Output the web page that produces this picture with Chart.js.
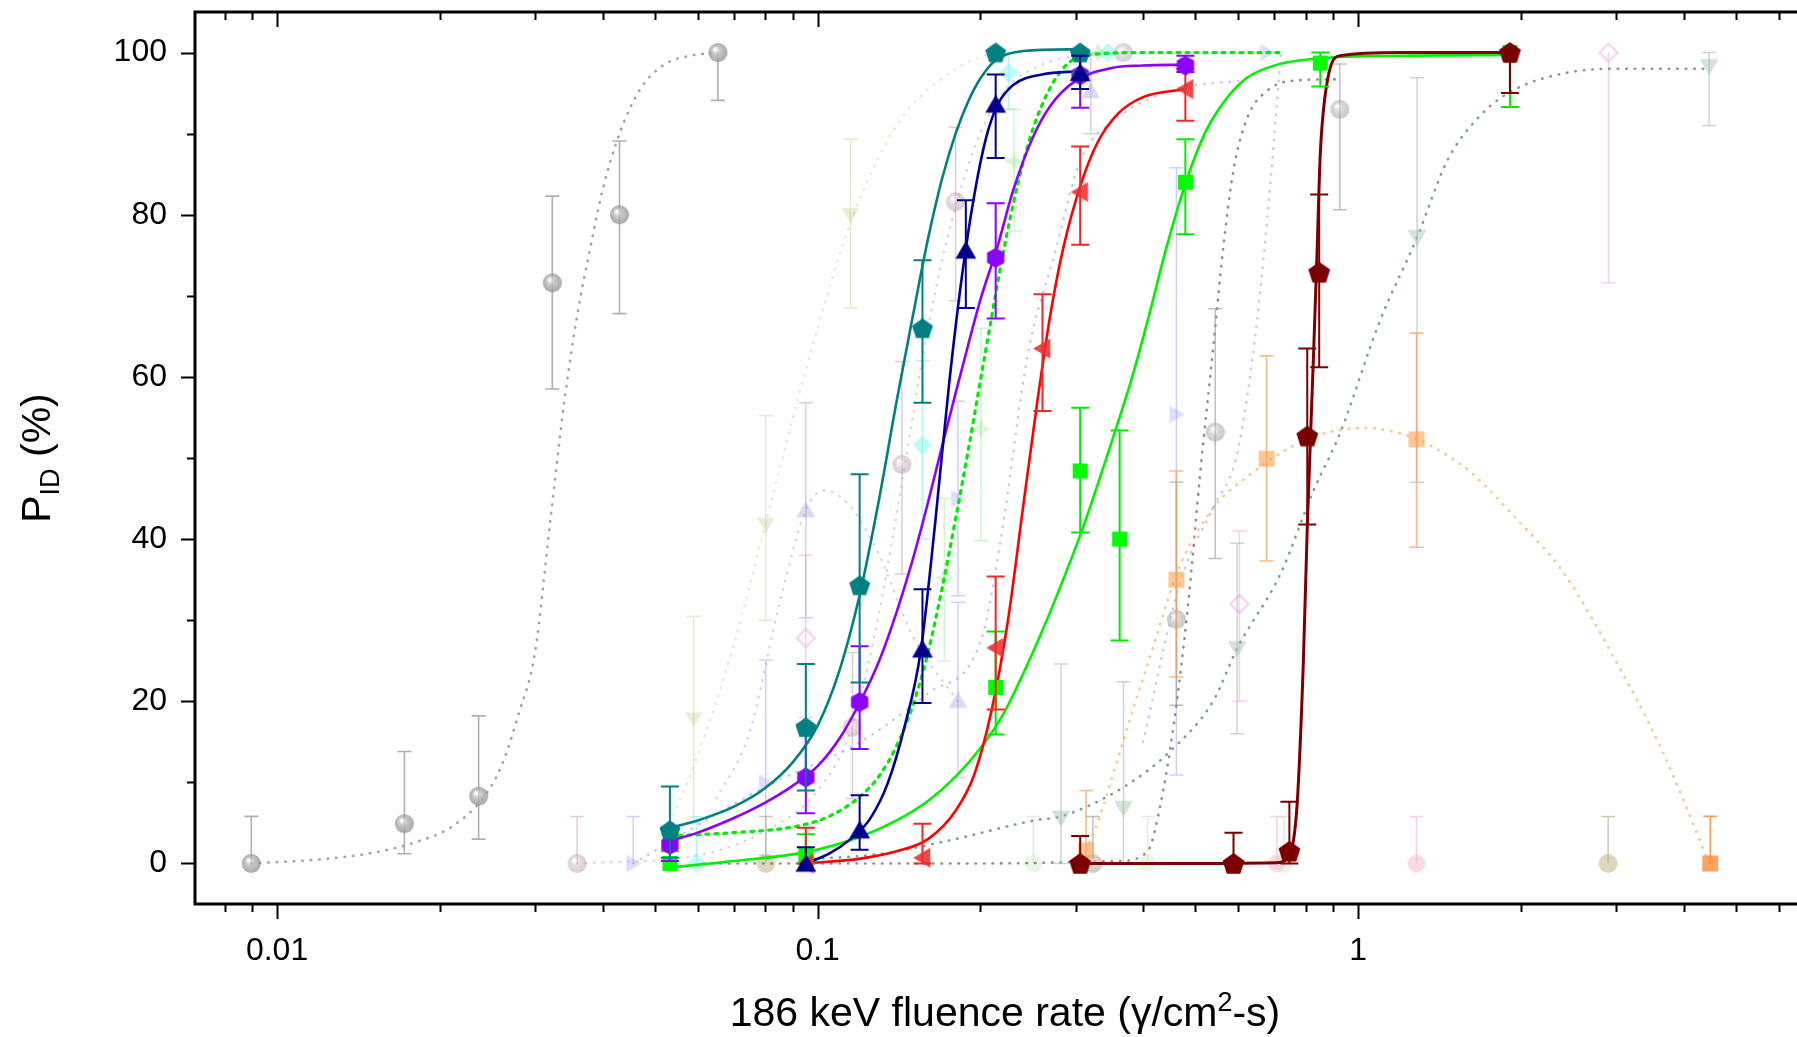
<!DOCTYPE html>
<html>
<head>
<meta charset="utf-8">
<script src="https://cdn.jsdelivr.net/npm/chart.js@4.4.1/dist/chart.umd.min.js"></script>
<style>
  html, body { margin: 0; padding: 0; background: #fff; overflow: hidden; width: 1797px; height: 1037px; }
  #wrap { position: absolute; left: 0; top: 0; width: 1830px; height: 1037px; }
</style>
</head>
<body>
<div id="wrap"><canvas id="c" width="1830" height="1037"></canvas></div>
<script>
// ---------- axis ticks ----------
const xTickValues = [0.008, 0.009,
  0.01, 0.02, 0.03, 0.04, 0.05, 0.06, 0.07, 0.08, 0.09,
  0.1, 0.2, 0.3, 0.4, 0.5, 0.6, 0.7, 0.8, 0.9,
  1, 2, 3, 4, 5, 6, 7];
const xTickLabels = { 0.01: '0.01', 0.1: '0.1', 1: '1' };
const yMajorTicks = [0, 20, 40, 60, 80, 100];
const yMinorTicks = [10, 30, 50, 70, 90];

// ---------- solid-fit series ----------
const tealX  = [0.0533, 0.0951, 0.1196, 0.1563, 0.2135, 0.306];
const tealY  = [4.1, 16.8, 34.3, 66.0, 100, 100];
const tealHi = [9.5, 24.6, 48.0, 74.4, 100, 100];
const tealLo = [0.7, 9.0, 22.3, 56.8, 100, 97.5];
const tealFitX = [0.0533, 0.06, 0.07, 0.08, 0.09, 0.1, 0.11, 0.12, 0.13, 0.14, 0.15, 0.16, 0.17, 0.18, 0.19, 0.2, 0.213, 0.24, 0.306];
const tealFitY = [4.4, 5.3, 7, 9.3, 12.5, 17, 24, 33.5, 45, 57, 67.5, 77, 84.5, 90, 94, 96.8, 99, 100.2, 100.4];

const navyX  = [0.0951, 0.1196, 0.1563, 0.188, 0.2135, 0.306];
const navyY  = [0, 4.1, 26.4, 75.6, 93.6, 97.5];
const navyHi = [2.0, 8.4, 33.8, 81.8, 97.3, 99.6];
const navyLo = [0, 1.7, 19.8, 68.5, 87.0, 95.5];
const navyFitX = [0.0951, 0.105, 0.115, 0.125, 0.135, 0.145, 0.155, 0.165, 0.175, 0.185, 0.195, 0.205, 0.215, 0.23, 0.26, 0.306];
const navyFitY = [0, 1.2, 3, 5.5, 10, 17, 26, 42, 59, 72.5, 82.5, 89.5, 93.5, 96, 97.3, 97.7];

const violetX  = [0.0533, 0.0951, 0.1196, 0.2135, 0.306, 0.479];
const violetY  = [2.3, 10.6, 19.9, 74.7, 97.2, 98.4];
const violetHi = [4.4, 16.7, 26.8, 81.4, 100, 99.6];
const violetLo = [0.3, 6.2, 14.1, 67.2, 93.2, 97.6];
const violetFitX = [0.0533, 0.06, 0.07, 0.08, 0.09, 0.1, 0.11, 0.12, 0.13, 0.14, 0.15, 0.16, 0.17, 0.18, 0.19, 0.2, 0.215, 0.23, 0.25, 0.27, 0.3, 0.35, 0.4, 0.479];
const violetFitY = [2.8, 3.8, 5.6, 7.5, 9.6, 12, 15.5, 20, 25, 31, 37.5, 44.5, 51.5, 58, 64, 69.5, 76, 83, 89.5, 93.5, 96.5, 98.1, 98.4, 98.5];

const redX  = [0.0951, 0.1563, 0.2135, 0.2606, 0.306, 0.479];
const redY  = [0, 0.7, 26.6, 63.5, 82.8, 95.5];
const redHi = [4.4, 4.9, 35.4, 70.2, 88.4, 98.0];
const redLo = [0, 0, 19.0, 55.8, 76.3, 91.6];
const redFitX = [0.0951, 0.12, 0.14, 0.16, 0.18, 0.195, 0.21, 0.225, 0.24, 0.255, 0.27, 0.285, 0.306, 0.33, 0.36, 0.4, 0.479];
const redFitY = [0, 0.6, 1.5, 3, 6.5, 11, 19, 30, 44, 57, 68, 76, 83.5, 89, 92.5, 94.5, 95.5];

const limeX  = [0.0533, 0.0951, 0.2135, 0.306, 0.362, 0.479, 0.851, 1.909];
const limeY  = [0, 1.0, 21.7, 48.4, 40.0, 84.0, 98.7, 100];
const limeHi = [1.5, 3.6, 28.6, 56.2, 53.4, 89.3, 100, 100];
const limeLo = [0, 0, 15.9, 40.8, 27.5, 77.6, 95.8, 93.3];
const limeFitX = [0.0533, 0.07, 0.0951, 0.12, 0.14, 0.16, 0.18, 0.2, 0.22, 0.25, 0.28, 0.31, 0.35, 0.38, 0.41, 0.44, 0.48, 0.52, 0.56, 0.62, 0.7, 0.85, 1.2, 1.909];
const limeFitY = [-0.5, 0.3, 1.4, 3.3, 5.3, 7.7, 10.7, 14.2, 18.3, 26, 33.8, 41.5, 52, 59.5, 67.5, 75.5, 84, 90, 93.6, 96.8, 98.4, 99.3, 99.6, 99.7];

const maroonX  = [0.306, 0.588, 0.746, 0.805, 0.847, 1.909];
const maroonY  = [0, 0, 1.5, 52.7, 72.9, 100];
const maroonHi = [3.4, 3.8, 7.6, 63.5, 82.5, 100];
const maroonLo = [0, 0, 0, 41.8, 61.2, 95.0];
const maroonFitX = [0.306, 0.5, 0.7075, 0.748, 0.7706, 0.7915, 0.805, 0.827, 0.839, 0.851, 0.877, 0.925, 1.2, 1.909];
const maroonFitY = [0, 0, 0.1, 1.2, 7.1, 24.6, 41.4, 62.9, 75.1, 87.5, 96.5, 99.6, 100, 100];

// bright green dotted fit and its pale markers
const paleGreenX  = [0.1715, 0.2005, 0.231, 0.33];
const paleGreenY  = [35.2, 53.6, 86.6, 100];
const paleGreenHi = [45, 66, 93, 100];
const paleGreenLo = [25, 39.8, 78, 100];
const greenDotFitX = [0.0533, 0.07, 0.09, 0.105, 0.12, 0.13, 0.14, 0.15, 0.16, 0.17, 0.18, 0.19, 0.2, 0.21, 0.22, 0.235, 0.25, 0.27, 0.29, 0.31, 0.4, 0.718];
const greenDotFitY = [3.4, 3.8, 4.5, 5.8, 8.3, 10.8, 14.5, 19.5, 26, 34, 42.5, 51, 59.5, 67.5, 75, 84, 90.5, 95.8, 98.6, 99.6, 100, 100];

// ---------- faded series (dotted fits) ----------
const greyLX  = [0.00896, 0.0172, 0.0236, 0.0323, 0.043, 0.0654];
const greyLY  = [0, 4.9, 8.3, 71.6, 80, 100];
const greyLHi = [5.8, 13.8, 18.2, 82.3, 89.1, 100];
const greyLLo = [0, 1.2, 3.0, 58.5, 67.8, 94.1];
const greyLFitX = [0.00896, 0.012, 0.015, 0.018, 0.021, 0.024, 0.026, 0.028, 0.03, 0.032, 0.034, 0.036, 0.038, 0.04, 0.043, 0.047, 0.052, 0.058, 0.0654];
const greyLFitY = [0, 0.5, 1.3, 2.6, 4.5, 8, 12, 18.5, 26, 42, 57, 68, 76, 83, 90, 95.5, 98.5, 99.6, 100];

const greyRX  = [0.323, 0.461, 0.544, 0.925];
const greyRY  = [0, 30.1, 53.2, 93];
const greyRHi = [5.8, 47, 68.4, 98.6];
const greyRLo = [0, 19.5, 37.6, 80.6];
const greyRFitX = [0.0615, 0.2, 0.36, 0.408, 0.43, 0.456, 0.484, 0.51, 0.54, 0.563, 0.588, 0.624, 0.679, 0.749, 0.925];
const greyRFitY = [0, 0, 0.3, 1.5, 7, 17.2, 31.6, 48, 64, 76, 85.5, 92, 95.3, 96.5, 96.7];

const sageX  = [0.282, 0.368, 0.597, 1.285, 4.46];
const sageY  = [5.6, 6.8, 26.5, 77.2, 98.3];
const sageHi = [24.6, 22.4, 39.5, 96.9, 100];
const sageLo = [0, 0, 16, 47, 91];
const sageFitX = [0.0951, 0.131, 0.1741, 0.2515, 0.282, 0.368, 0.45, 0.54, 0.597, 0.718, 0.827, 0.925, 1.097, 1.285, 1.46, 1.68, 1.93, 2.39, 2.96, 4.46];
const sageFitY = [0.5, 1.2, 2.8, 5.3, 5.8, 9.4, 13.9, 20.1, 26.5, 35.7, 46, 53, 66.9, 77.2, 86.6, 92.2, 95.3, 97.4, 98, 98];

const orangeX  = [0.3137, 0.461, 0.677, 1.282, 4.48];
const orangeY  = [1.6, 35, 49.9, 52.3, 0];
const orangeHi = [9, 48.4, 62.6, 65.4, 5.8];
const orangeLo = [0, 23, 37.3, 39, 0];
const orangeFitX = [0.3137, 0.329, 0.384, 0.414, 0.444, 0.47, 0.54, 0.632, 0.749, 0.862, 1.02, 1.263, 1.564, 1.68, 1.93, 2.39, 2.96, 3.65, 4.46];
const orangeFitY = [1.6, 4.9, 19.2, 25.9, 32.4, 37, 43.9, 48, 51.3, 53, 53.7, 52.5, 49, 47.2, 43, 36, 25.6, 13.9, 0];

const skyX  = [0.0456, 0.0802, 0.1818, 0.461, 0.679];
const skyY  = [0, 9.9, 45, 55.4, 100];
const skyHi = [5.8, 25.1, 57, 85.8, 100];
const skyLo = [0, 1, 33, 10.9, 100];
const skyFitX = [0.0456, 0.0802, 0.12, 0.16, 0.2005, 0.218, 0.245, 0.274, 0.306, 0.353, 0.461, 0.6];
const skyFitY = [0, 9.5, 15, 21, 27.5, 39.8, 62.9, 75, 86.6, 91.6, 95.5, 96.5];
const periFitX = [0.40, 0.47, 0.54, 0.597, 0.65, 0.687, 0.707, 0.72];
const periFitY = [15, 35, 44, 50.5, 66.9, 83.3, 93.6, 100];

const oliveX  = [0.059, 0.0802, 0.115];
const oliveY  = [17.8, 41.8, 80];
const oliveHi = [30.5, 55.2, 89.3];
const oliveLo = [5, 30, 68.5];
const oliveFitX = [0.0533, 0.059, 0.07, 0.0802, 0.09, 0.1, 0.115, 0.14, 0.18, 0.21];
const oliveFitY = [5, 12, 27, 42, 55, 66, 79, 91, 98, 100];

const mauveX  = [0.0359, 0.116, 0.1432, 0.18, 0.368];
const mauveY  = [0, 16.8, 49.2, 81.6, 100];
const mauveHi = [5.8, 26, 61.9, 90.8, 100];
const mauveLo = [0, 8, 35.7, 69.4, 100];
const mauveFitX = [0.0359, 0.06, 0.08, 0.1, 0.116, 0.13, 0.1432, 0.16, 0.18, 0.21, 0.26, 0.368];
const mauveFitY = [0, 1, 4, 9, 17, 31, 47, 66, 81, 93, 98.5, 100];

const lilacX  = [0.0951, 0.1818, 0.32];
const lilacY  = [43.6, 20.1, 95.3];
const lilacHi = [56.8, 32.2, 100];
const lilacLo = [30.3, 10.6, 90];
const lilacFitX = [0.065, 0.0747, 0.085, 0.0951, 0.103, 0.115, 0.13, 0.15, 0.1818];
const lilacFitY = [8, 16, 32, 43.6, 46, 44, 38, 28, 20];

const cyanX  = [0.0597, 0.1563, 0.2255, 0.344];
const cyanY  = [0, 51.6, 97.5, 100];
const cyanHi = [5.8, 62, 100, 100];
const cyanLo = [0, 40, 93, 100];

const pinkX  = [0.0951, 0.603, 2.905];
const pinkY  = [27.8, 32, 100];
const pinkHi = [38, 41, 100];
const pinkLo = [18, 20, 71.6];

const roseX  = [0.7075, 1.282];
const roseY  = [0, 0];
const roseHi = [5.8, 5.8];
const roseLo = [0, 0];

const khakiX  = [0.0802, 2.9];
const khakiY  = [0, 0];
const khakiHi = [5.8, 5.8];
const khakiLo = [0, 0];

const mintX  = [0.2507, 0.408, 0.729];
const mintY  = [0, 0, 0];
const mintHi = [5.8, 5.8, 5.8];
const mintLo = [0, 0, 0];

// ---------- marker images ----------
function polyPath(g, cx, cy, r, n, rot) {
  for (let i = 0; i < n; i++) {
    const a = rot + i * 2 * Math.PI / n;
    const px = cx + r * Math.cos(a), py = cy + r * Math.sin(a);
    if (i === 0) g.moveTo(px, py); else g.lineTo(px, py);
  }
  g.closePath();
}
function marker(shape, r, fill, opt) {
  opt = opt || {};
  const s = Math.ceil(r * 2 + 4);
  const c = document.createElement('canvas');
  c.width = s; c.height = s;
  const g = c.getContext('2d');
  const cx = s / 2, cy = s / 2;
  g.globalAlpha = opt.alpha == null ? 1 : opt.alpha;
  g.beginPath();
  switch (shape) {
    case 'pentagon': polyPath(g, cx, cy + r * 0.08, r, 5, -Math.PI / 2); break;
    case 'hexagon': polyPath(g, cx, cy, r, 6, -Math.PI / 2); break;
    case 'up': polyPath(g, cx, cy + r * 0.18, r, 3, -Math.PI / 2); break;
    case 'down': polyPath(g, cx, cy - r * 0.18, r, 3, Math.PI / 2); break;
    case 'left': polyPath(g, cx + r * 0.18, cy, r, 3, Math.PI); break;
    case 'right': polyPath(g, cx - r * 0.18, cy, r, 3, 0); break;
    case 'square': g.rect(cx - r, cy - r, 2 * r, 2 * r); break;
    case 'diamond': polyPath(g, cx, cy, r, 4, -Math.PI / 2); break;
    case 'star':
      for (let i = 0; i < 8; i++) {
        const a = -Math.PI / 2 + i * Math.PI / 4, rr = i % 2 ? r * 0.45 : r;
        const px = cx + rr * Math.cos(a), py = cy + rr * Math.sin(a);
        if (i === 0) g.moveTo(px, py); else g.lineTo(px, py);
      }
      g.closePath(); break;
    default: g.arc(cx, cy, r, 0, Math.PI * 2);
  }
  if (opt.sphere) {
    const gr = g.createRadialGradient(cx - r * 0.3, cy - r * 0.35, r * 0.08, cx, cy, r);
    gr.addColorStop(0, '#ffffff');
    gr.addColorStop(0.35, opt.sphere[0]);
    gr.addColorStop(1, opt.sphere[1]);
    g.fillStyle = gr; g.fill();
  } else if (opt.open) {
    g.lineWidth = 2; g.strokeStyle = fill; g.stroke();
  } else {
    g.fillStyle = fill; g.fill();
  }
  return c;
}

const imgTeal   = marker('pentagon', 11, 'rgb(0,128,128)');
const imgNavy   = marker('up', 12, 'rgb(0,0,139)');
const imgViolet = marker('hexagon', 10, 'rgb(139,0,255)');
const imgRed    = marker('left', 11.5, 'rgba(238,45,45,0.88)');
const imgLime   = marker('square', 7.5, 'rgb(0,255,0)');
const imgMaroon = marker('pentagon', 11.5, 'rgb(122,0,0)');
const imgPaleGreen = marker('star', 10, 'rgba(150,230,150,0.35)');
const imgGreyL  = marker('circle', 9.5, '#aaa', { sphere: ['#b8b8b8', '#8c8c8c'], alpha: 0.75 });
const imgGreyR  = marker('circle', 9.5, '#aaa', { sphere: ['#c0c0c0', '#999'], alpha: 0.55 });
const imgSage   = marker('down', 11, 'rgba(160,190,170,0.45)');
const imgOrange = marker('square', 8, 'rgba(255,160,80,0.6)');
const imgOrangeB = marker('square', 8, 'rgba(255,140,60,0.8)');
const imgSky    = marker('right', 10, 'rgba(160,160,255,0.35)');
const imgOlive  = marker('down', 10, 'rgba(200,210,150,0.4)');
const imgMauve  = marker('circle', 9.5, '#ccc', { sphere: ['rgba(210,185,200,1)', 'rgba(170,140,160,1)'], alpha: 0.45 });
const imgLilac  = marker('up', 11, 'rgba(170,160,220,0.4)');
const imgCyan   = marker('diamond', 10, 'rgba(120,245,245,0.45)');
const imgPink   = marker('diamond', 9, 'rgba(240,150,210,0.45)', { open: true });
const imgRose   = marker('circle', 9, 'rgba(245,170,195,0.45)');
const imgKhaki  = marker('circle', 9.5, 'rgba(190,175,120,0.5)');
const imgMint   = marker('circle', 9, 'rgba(200,225,190,0.35)');

// ---------- dataset builders ----------
const pts = (xs, ys) => xs.map((v, i) => ({ x: v, y: ys[i] }));
function points(label, xs, ys, hi, lo, img, errColor, errWidth, cap, order) {
  return { label, data: pts(xs, ys), showLine: false, pointStyle: img, pointRadius: 10,
    pointHoverRadius: 10, errHi: hi, errLo: lo, errColor, errWidth, errCap: cap, order };
}
function curve(label, xs, ys, color, width, dash, order) {
  return { label, data: pts(xs, ys), showLine: true, pointRadius: 0, pointHoverRadius: 0,
    borderColor: color, borderWidth: width, borderDash: dash || [], borderCapStyle: 'round',
    cubicInterpolationMode: 'monotone', fill: false, order };
}
const DOT = [0.5, 8];

const datasets = [
  // faded layer
  curve('greyL fit', greyLFitX, greyLFitY, 'rgba(140,140,140,0.8)', 2.6, DOT, 60),
  points('greyL', greyLX, greyLY, greyLHi, greyLLo, imgGreyL, 'rgba(150,150,150,0.75)', 1.6, 7, 59),
  curve('olive fit', oliveFitX, oliveFitY, 'rgba(205,215,170,0.55)', 2.4, DOT, 58),
  points('olive', oliveX, oliveY, oliveHi, oliveLo, imgOlive, 'rgba(205,215,170,0.55)', 1.5, 7, 57),
  curve('mauve fit', mauveFitX, mauveFitY, 'rgba(190,165,185,0.5)', 2.4, DOT, 56),
  points('mauve', mauveX, mauveY, mauveHi, mauveLo, imgMauve, 'rgba(200,150,175,0.5)', 1.5, 7, 55),
  curve('lilac fit', lilacFitX, lilacFitY, 'rgba(175,165,215,0.5)', 2.4, DOT, 54.5),
  points('lilac', lilacX, lilacY, lilacHi, lilacLo, imgLilac, 'rgba(170,160,225,0.5)', 1.5, 7, 54),
  curve('sky fit', skyFitX, skyFitY, 'rgba(150,150,235,0.55)', 2.4, DOT, 53.5),
  curve('peri fit', periFitX, periFitY, 'rgba(150,150,235,0.55)', 2.4, DOT, 53.2),
  points('sky', skyX, skyY, skyHi, skyLo, imgSky, 'rgba(160,160,250,0.5)', 1.5, 7, 52),
  points('cyan', cyanX, cyanY, cyanHi, cyanLo, imgCyan, 'rgba(120,230,230,0.5)', 1.5, 7, 51),
  points('pink', pinkX, pinkY, pinkHi, pinkLo, imgPink, 'rgba(235,160,220,0.5)', 1.5, 7, 50),
  points('rose', roseX, roseY, roseHi, roseLo, imgRose, 'rgba(240,160,190,0.5)', 1.5, 7, 49),
  points('khaki', khakiX, khakiY, khakiHi, khakiLo, imgKhaki, 'rgba(180,165,120,0.6)', 1.5, 7, 48),
  points('mint', mintX, mintY, mintHi, mintLo, imgMint, 'rgba(190,215,180,0.45)', 1.5, 7, 47),
  curve('greyR fit', greyRFitX, greyRFitY, 'rgba(105,105,105,0.75)', 2.6, DOT, 46),
  points('greyR', greyRX, greyRY, greyRHi, greyRLo, imgGreyR, 'rgba(150,150,150,0.6)', 1.5, 7, 45),
  curve('sage fit', sageFitX, sageFitY, 'rgba(85,125,105,0.75)', 2.6, DOT, 44),
  points('sage', sageX, sageY, sageHi, sageLo, imgSage, 'rgba(170,185,175,0.6)', 1.5, 7, 43),
  curve('orange fit', orangeFitX, orangeFitY, 'rgba(255,170,90,0.7)', 2.6, DOT, 42),
  points('orange', orangeX.slice(0, 4), orangeY.slice(0, 4), orangeHi.slice(0, 4), orangeLo.slice(0, 4), imgOrange, 'rgba(245,160,80,0.7)', 1.6, 7, 41),
  points('orange end', orangeX.slice(4), orangeY.slice(4), orangeHi.slice(4), orangeLo.slice(4), imgOrangeB, 'rgba(255,140,60,0.85)', 1.6, 7, 40),
  points('paleGreen', paleGreenX, paleGreenY, paleGreenHi, paleGreenLo, imgPaleGreen, 'rgba(150,230,150,0.45)', 1.5, 7, 39),
  // bold layer
  curve('green dotted fit', greenDotFitX, greenDotFitY, 'rgb(0,235,0)', 3.2, [3, 6], 30),
  curve('lime fit', limeFitX, limeFitY, 'rgb(0,240,0)', 2.6, [], 21),
  curve('red fit', redFitX, redFitY, 'rgb(255,0,0)', 2.6, [], 20),
  curve('violet fit', violetFitX, violetFitY, 'rgb(139,0,255)', 2.6, [], 19),
  curve('navy fit', navyFitX, navyFitY, 'rgb(0,0,150)', 2.6, [], 18),
  curve('teal fit', tealFitX, tealFitY, 'rgb(0,128,128)', 2.6, [], 17),
  curve('maroon fit', maroonFitX, maroonFitY, 'rgb(125,0,0)', 3.0, [], 16),
  points('lime', limeX, limeY, limeHi, limeLo, imgLime, 'rgb(0,235,0)', 2, 9, 8),
  points('red', redX, redY, redHi, redLo, imgRed, 'rgb(240,40,40)', 2, 9, 7),
  points('violet', violetX, violetY, violetHi, violetLo, imgViolet, 'rgb(139,0,255)', 2, 9, 6),
  points('teal', tealX, tealY, tealHi, tealLo, imgTeal, 'rgb(0,128,128)', 2, 9, 5),
  points('navy', navyX, navyY, navyHi, navyLo, imgNavy, 'rgb(0,0,139)', 2, 9, 4),
  points('maroon', maroonX, maroonY, maroonHi, maroonLo, imgMaroon, 'rgb(122,0,0)', 2, 9, 3)
];

// ---------- plugins ----------
const errorBars = {
  id: 'errorBars',
  beforeDatasetDraw(chart, args) {
    const ds = chart.data.datasets[args.index];
    if (!ds.errHi) return;
    const { ctx, chartArea: a, scales: { x, y } } = chart;
    ctx.save();
    ctx.beginPath(); ctx.rect(a.left, a.top, a.right - a.left, a.bottom - a.top); ctx.clip();
    ctx.strokeStyle = ds.errColor; ctx.lineWidth = ds.errWidth;
    ds.data.forEach((p, i) => {
      const px = x.getPixelForValue(p.x);
      const yh = y.getPixelForValue(ds.errHi[i]);
      const yl = y.getPixelForValue(ds.errLo[i]);
      if (Math.abs(yh - yl) < 1) return;
      ctx.beginPath();
      ctx.moveTo(px, yh); ctx.lineTo(px, yl);
      if (ds.errHi[i] > p.y) { ctx.moveTo(px - ds.errCap, yh); ctx.lineTo(px + ds.errCap, yh); }
      if (ds.errLo[i] < p.y) { ctx.moveTo(px - ds.errCap, yl); ctx.lineTo(px + ds.errCap, yl); }
      ctx.stroke();
    });
    ctx.restore();
  }
};

const frame = {
  id: 'frame',
  afterDraw(chart) {
    const { ctx, chartArea: a, scales: { x, y } } = chart;
    ctx.save();
    ctx.strokeStyle = '#000';
    ctx.lineWidth = 2;
    ctx.lineCap = 'butt';
    ctx.beginPath();
    xTickValues.forEach(v => {
      const px = Math.round(x.getPixelForValue(v)) + 0.5;
      const major = xTickLabels[v] !== undefined;
      const len = major ? 15 : 8;
      ctx.moveTo(px, a.bottom); ctx.lineTo(px, a.bottom + len);
      ctx.moveTo(px, a.top); ctx.lineTo(px, a.top + len);
    });
    yMajorTicks.forEach(v => {
      const py = Math.round(y.getPixelForValue(v)) + 0.5;
      ctx.moveTo(a.left, py); ctx.lineTo(a.left - 14, py);
    });
    yMinorTicks.forEach(v => {
      const py = Math.round(y.getPixelForValue(v)) + 0.5;
      ctx.moveTo(a.left, py); ctx.lineTo(a.left - 8, py);
    });
    ctx.stroke();
    ctx.lineWidth = 3;
    ctx.beginPath();
    ctx.moveTo(a.left, a.top); ctx.lineTo(a.right, a.top);
    ctx.moveTo(a.left, a.bottom); ctx.lineTo(a.right, a.bottom);
    ctx.moveTo(a.left, a.top - 1.5); ctx.lineTo(a.left, a.bottom + 1.5);
    ctx.moveTo(a.right, a.top - 1.5); ctx.lineTo(a.right, a.bottom + 1.5);
    ctx.stroke();

    // axis titles
    ctx.fillStyle = '#000';
    ctx.textBaseline = 'alphabetic';
    const big = '41px "Liberation Sans", Arial, sans-serif';
    const small = '27px "Liberation Sans", Arial, sans-serif';
    // x title with superscript
    const t1 = '186 keV fluence rate (\u03b3/cm', t2 = '2', t3 = '-s)';
    ctx.font = big; const w1 = ctx.measureText(t1).width, w3 = ctx.measureText(t3).width;
    ctx.font = small; const w2 = ctx.measureText(t2).width;
    let tx = (a.left + a.right) / 2 - (w1 + w2 + w3) / 2;
    const ty = 1026;
    ctx.textAlign = 'left';
    ctx.font = big; ctx.fillText(t1, tx, ty); tx += w1;
    ctx.font = small; ctx.fillText(t2, tx, ty - 15); tx += w2;
    ctx.font = big; ctx.fillText(t3, tx, ty);
    // y title with subscript
    ctx.translate(50, (a.top + a.bottom) / 2);
    ctx.rotate(-Math.PI / 2);
    const s1 = 'P', s2 = 'ID', s3 = ' (%)';
    ctx.font = big; const v1 = ctx.measureText(s1).width, v3 = ctx.measureText(s3).width;
    ctx.font = small; const v2 = ctx.measureText(s2).width;
    let sx = -(v1 + v2 + v3) / 2;
    ctx.font = big; ctx.fillText(s1, sx, 0); sx += v1;
    ctx.font = small; ctx.fillText(s2, sx, 9); sx += v2;
    ctx.font = big; ctx.fillText(s3, sx, 0);
    ctx.restore();
  }
};

// ---------- chart ----------
new Chart(document.getElementById('c'), {
  type: 'scatter',
  data: { datasets },
  options: {
    responsive: false,
    animation: false,
    layout: { padding: { top: 12, right: 15, left: 0, bottom: 0 } },
    plugins: { legend: { display: false }, tooltip: { enabled: false } },
    scales: {
      x: {
        type: 'logarithmic',
        min: 0.00705, max: 7,
        grid: { display: false, drawTicks: false },
        border: { display: false },
        afterBuildTicks: s => { s.ticks = xTickValues.map(v => ({ value: v })); },
        afterFit: s => { s.height = 133; s.paddingLeft = 0; s.paddingRight = 0; },
        ticks: {
          autoSkip: false, maxRotation: 0, minRotation: 0, padding: 28,
          color: '#000', font: { family: '"Liberation Sans", Arial, sans-serif', size: 32 },
          callback: v => (xTickLabels[v] !== undefined ? xTickLabels[v] : '')
        }
      },
      y: {
        min: -5, max: 105,
        grid: { display: false, drawTicks: false },
        border: { display: false },
        afterBuildTicks: s => { s.ticks = yMajorTicks.map(v => ({ value: v })); },
        afterFit: s => { s.width = 195; s.paddingTop = 0; s.paddingBottom = 0; },
        ticks: {
          padding: 28, color: '#000',
          font: { family: '"Liberation Sans", Arial, sans-serif', size: 32 },
          callback: v => String(v)
        }
      }
    }
  },
  plugins: [errorBars, frame]
});
</script>
</body>
</html>
